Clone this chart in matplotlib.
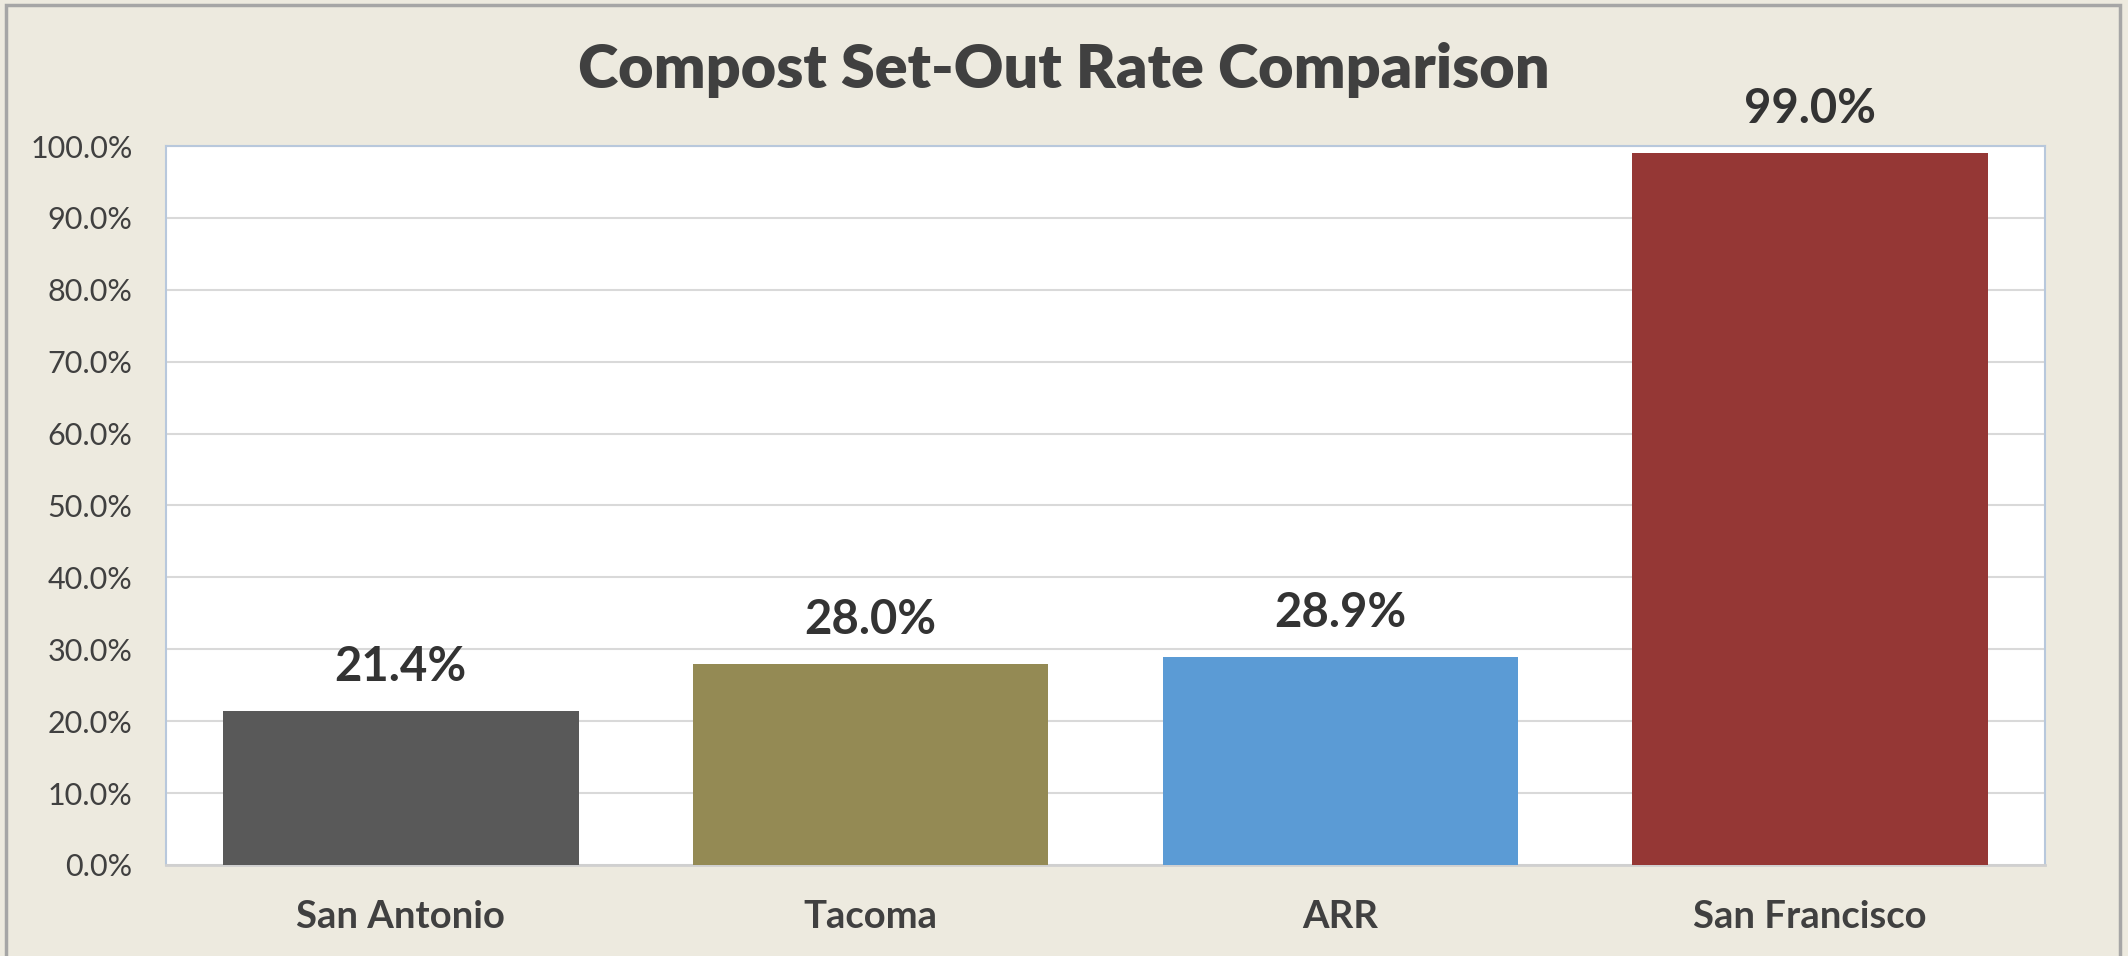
import matplotlib
matplotlib.use('Agg')
import matplotlib.pyplot as plt
from matplotlib.patches import Rectangle
from matplotlib.ticker import FuncFormatter, MultipleLocator

# data
cities = ['San Antonio', 'Tacoma', 'ARR', 'San Francisco']
rates = [0.214, 0.280, 0.289, 0.990]
bar_colors = ['#595959', '#948A54', '#5B9BD5', '#953735']

plt.rcParams['font.family'] = ['Lato', 'DejaVu Sans']

bg = '#EDEADF'
fig = plt.figure(figsize=(21.28, 9.56), dpi=100, facecolor=bg)
# thin grey border around the chart area (no bottom edge visible)
fig.patches.append(Rectangle((6 / 2128, -0.05), (2120 - 6) / 2128, 1.05 - 5 / 956,
                             transform=fig.transFigure, fill=False,
                             edgecolor='#A6A6A6', lw=2.5))

ax = fig.add_axes([166 / 2128, 91 / 956, (2045 - 166) / 2128, (865 - 146) / 956])
ax.set_facecolor('white')

x = range(len(cities))
ax.bar(x, rates, width=0.757, color=bar_colors, zorder=3)

for i, v in enumerate(rates):
    ax.annotate('{:.1f}%'.format(v * 100), (i, v), xytext=(0, 31.5),
                textcoords='offset points', ha='center', va='center',
                fontsize=34, fontweight='bold', color='#333333')

ax.set_xlim(-0.5, len(cities) - 0.5)
ax.set_ylim(0, 1.0)
ax.yaxis.set_major_locator(MultipleLocator(0.1))
ax.yaxis.set_major_formatter(FuncFormatter(lambda v, p: '{:.1f}%'.format(v * 100)))
ax.grid(axis='y', color='#D9D9D9', lw=1.5, zorder=0)

ax.set_xticks(list(x))
ax.set_xticklabels(cities, fontsize=27.5, fontweight='bold', color='#404040')
ax.tick_params(axis='x', length=0, pad=25)
ax.tick_params(axis='y', length=0, pad=24, labelsize=22, labelcolor='#404040')

for side in ['top', 'left', 'right']:
    ax.spines[side].set_color('#B8C8DC')
    ax.spines[side].set_linewidth(1.5)
ax.spines['bottom'].set_color('#D0D0D0')
ax.spines['bottom'].set_linewidth(2)

fig.text(0.5, 1 - 70 / 956, 'Compost Set-Out Rate Comparison', ha='center', va='center',
         fontsize=44, fontweight='heavy', color='#404040')

fig.savefig('out.png', dpi=100, facecolor=bg)
